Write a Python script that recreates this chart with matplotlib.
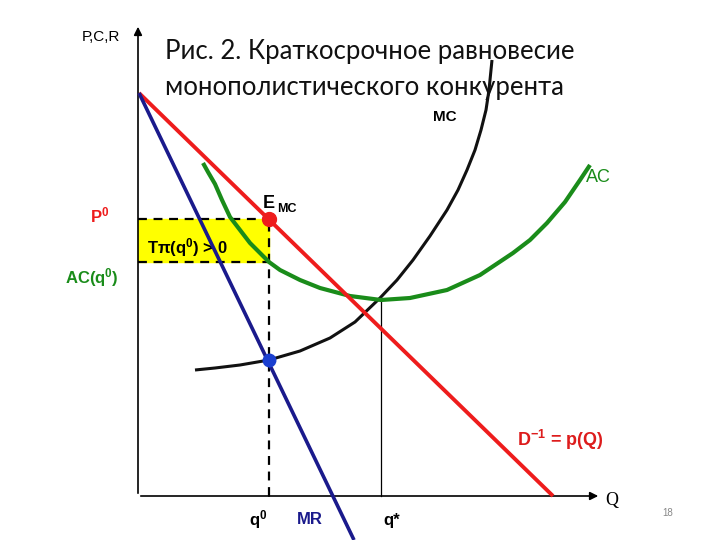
import numpy as np
import matplotlib
matplotlib.use('Agg')
from matplotlib import pyplot as plt

plt.rcParams['font.family'] = ['Liberation Sans', 'DejaVu Sans']
plt.rcParams['mathtext.default'] = 'regular'

# demand (inverse) and marginal revenue, straight lines
demand_q = [1, 415]
demand_p = [403, 0]
mr_q = [1, 216]
mr_p = [403, -44]

# marginal cost and average cost curves
mc_q = [57, 77, 102, 131, 162, 192, 217, 242, 259, 275, 292, 309, 320, 329,
        337, 343, 348, 351, 354]
mc_p = [126, 128, 131, 136, 145, 158, 174, 198, 216, 236, 260, 286, 306, 326,
        346, 366, 386, 406, 436]
ac_q = [65, 70, 77, 84, 92, 102, 112, 122, 131, 142, 162, 182, 212, 243,
        272, 309, 342, 375, 392, 409, 427, 442, 452]
ac_p = [333, 324, 312, 296, 279, 266, 253, 243, 234, 226, 216, 208, 200, 196,
        198, 206, 221, 243, 256, 273, 294, 316, 331]

q0 = 131       # output where MR = MC
p0 = 277       # price on demand at q0
ac_q0 = 234    # average cost at q0
mc_q0 = 136    # MR = MC level
q_star = 243   # minimum of AC

fig = plt.figure(figsize=(7.2, 5.4), dpi=100)
ax = fig.add_axes([0, 0, 1, 1])
ax.set_xlim(-138, 582)
ax.set_ylim(-44, 496)
ax.axis('off')

# axes with arrows
ax.annotate('', xy=(0, 472), xytext=(0, 0),
            arrowprops=dict(arrowstyle='-|>', color='black', lw=1.2, mutation_scale=12))
ax.annotate('', xy=(463, 0), xytext=(0, 0),
            arrowprops=dict(arrowstyle='-|>', color='black', lw=1.2, mutation_scale=12))

# profit rectangle
ax.fill_between([0, q0], ac_q0, p0, color='#ffff00', zorder=1)
ax.plot([0, q0], [p0, p0], color='black', lw=1.6, ls=(0, (4, 3)), zorder=2)
ax.plot([0, q0], [ac_q0, ac_q0], color='black', lw=1.6, ls=(0, (4, 3)), zorder=2)
ax.plot([q0, q0], [0, p0], color='black', lw=1.6, ls=(0, (4, 3)), zorder=2)
ax.plot([q0, q0], [0, 6], color='black', lw=1.2)
ax.plot([q_star, q_star], [0, 196], color='black', lw=0.9, zorder=2)

# curves
ax.plot(mc_q, mc_p, color='#111111', lw=2.2, zorder=3, solid_capstyle='butt',
        solid_joinstyle='round')
ax.plot(ac_q, ac_p, color='#1a8c1a', lw=3.0, zorder=4, solid_capstyle='butt',
        solid_joinstyle='round')
ax.plot(demand_q, demand_p, color='#ee1c1c', lw=2.8, zorder=5, solid_capstyle='butt')
ax.plot(mr_q, mr_p, color='#1a1a8c', lw=2.6, zorder=5, solid_capstyle='butt')

ax.plot([q0], [p0], 'o', color='#ee1c1c', ms=10, zorder=6)
ax.plot([q0], [mc_q0], 'o', color='#1a3fd0', ms=9, zorder=6)

# texts
ax.text(-37, 459, 'P,C,R', fontsize=11, ha='center', va='center')
ax.text(27, 444, 'Рис. 2. Краткосрочное равновесие', family=['Lato', 'DejaVu Sans'],
        fontsize=18.5, ha='left', va='center', color='#111111')
ax.text(27, 409, 'монополистического конкурента', family=['Lato', 'DejaVu Sans'],
        fontsize=18.5, ha='left', va='center', color='#111111')
ax.text(307, 379, 'MC', fontsize=11, fontweight='bold', ha='center', va='center')
ax.text(460, 318, 'AC', fontsize=13, color='#1a8c1a', ha='center', va='center')
ax.text(-38, 281, 'P$^0$', fontsize=12, fontweight='bold', color='#ee1c1c', ha='center', va='center')
ax.text(125, 293, 'E', fontsize=13, fontweight='bold', ha='left', va='center')
ax.text(139, 287, 'MC', fontsize=9, fontweight='bold', ha='left', va='center')
ax.text(9, 248, 'Tπ(q$^0$) > 0', fontsize=12, fontweight='bold', ha='left', va='center')
ax.text(-46, 218, 'AC(q$^0$)', fontsize=12, fontweight='bold', color='#1a8c1a', ha='center', va='center')
ax.text(120, -24, 'q$^0$', fontsize=12, fontweight='bold', ha='center', va='center')
ax.text(172, -24, 'MR', fontsize=12, fontweight='bold', color='#1a1a8c', ha='center', va='center')
ax.text(254, -24, 'q*', fontsize=12, fontweight='bold', ha='center', va='center')
ax.text(474, -4, 'Q', fontsize=13, family='Liberation Serif', ha='center', va='center')
ax.text(422, 56, 'D$^{-1}$ = p(Q)', fontsize=13, fontweight='bold', color='#dd1c1c', ha='center', va='center')
ax.text(530, -17, '18', fontsize=7, color='#888888', ha='center', va='center')

fig.savefig('out.png', dpi=100)
